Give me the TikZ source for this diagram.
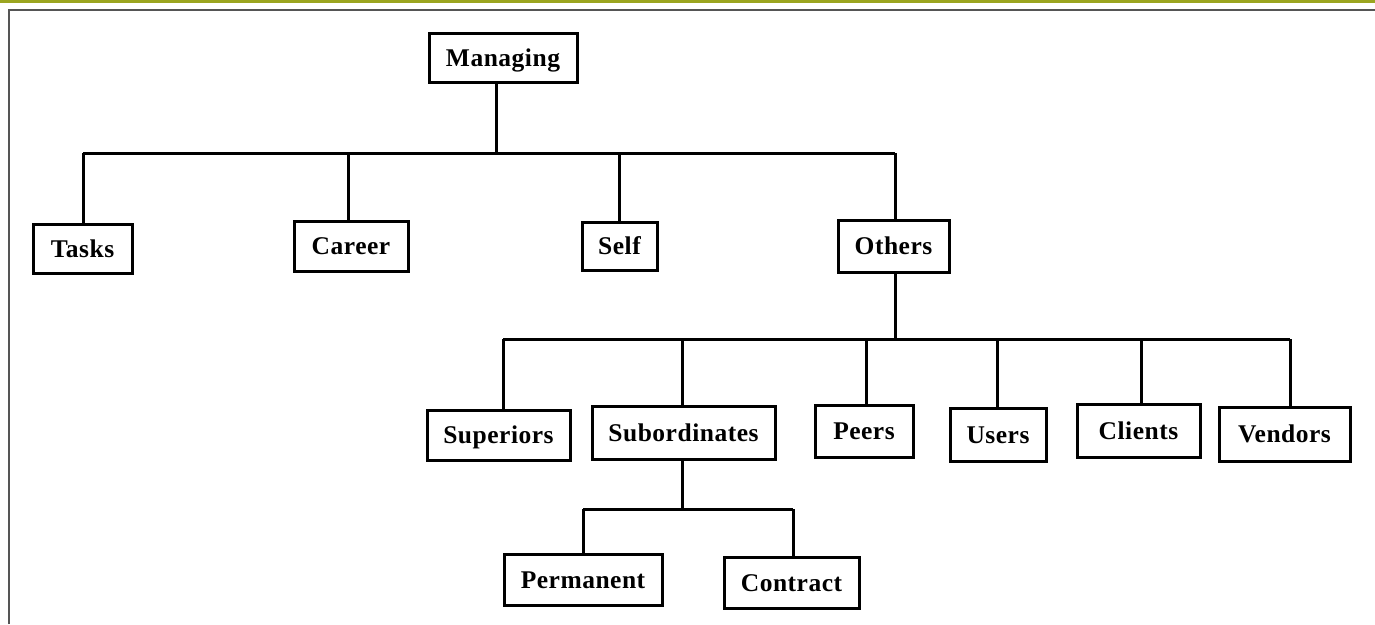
\documentclass[tikz,border=0pt]{standalone}
\usepackage{fontspec}
\setmainfont{Liberation Serif}
\definecolor{barolive}{RGB}{155,165,32}
\definecolor{framegray}{RGB}{85,85,85}
\begin{document}
\begin{tikzpicture}[x=1pt,y=-1pt,
  box/.style={draw=black,line width=3pt,fill=white,inner sep=0pt,
    text height=17pt,text depth=0pt,
    font=\fontsize{25.5}{29}\selectfont\bfseries\addfontfeatures{LetterSpace=2}},
  link/.style={draw=black,line width=3pt}]
\useasboundingbox (0,0) rectangle (1375,624);
\fill[white] (0,0) rectangle (1375,624);
% frame
\fill[barolive] (0,0) rectangle (1375,3);
\draw[framegray,line width=2.2pt] (9,624) -- (9,10) -- (1375,10);
% nodes
\node[box,minimum width=148pt,minimum height=49pt] (managing) at (503,57.5) {Managing};
\node[box,minimum width=99pt,minimum height=49pt] (tasks) at (82.5,248.5) {Tasks};
\node[box,minimum width=114pt,minimum height=50pt] (career) at (351,246) {Career};
\node[box,minimum width=75pt,minimum height=48pt] (self) at (619.5,246) {Self};
\node[box,minimum width=111pt,minimum height=52pt] (others) at (893.5,246) {Others};
\node[box,minimum width=143pt,minimum height=50pt] (superiors) at (498.5,435) {Superiors};
\node[box,minimum width=183pt,minimum height=53pt] (subordinates) at (683.5,432.5) {Subordinates};
\node[box,minimum width=98pt,minimum height=52pt] (peers) at (864,431) {Peers};
\node[box,minimum width=96pt,minimum height=53pt] (users) at (998,434.5) {Users};
\node[box,minimum width=123pt,minimum height=53pt] (clients) at (1138.5,430.5) {Clients};
\node[box,minimum width=131pt,minimum height=54pt] (vendors) at (1284.5,434) {Vendors};
\node[box,minimum width=158pt,minimum height=51pt] (permanent) at (583,579.5) {Permanent};
\node[box,minimum width=135pt,minimum height=51pt] (contract) at (791.5,582.5) {Contract};
% bus coordinates
\coordinate (m0) at (496,153);
\coordinate (t0) at (83,153);
\coordinate (c0) at (348,153);
\coordinate (s0) at (619,153);
\coordinate (o0) at (895,153);
\coordinate (o1) at (895,339);
\coordinate (sup0) at (503,339);
\coordinate (sub0) at (682,339);
\coordinate (p0) at (866,339);
\coordinate (u0) at (997,339);
\coordinate (cl0) at (1141,339);
\coordinate (v0) at (1290,339);
\coordinate (sub1) at (682,509);
\coordinate (pe0) at (583,509);
\coordinate (co0) at (793,509);
% connectors level 1
\draw[link] (managing.south -| m0) -- (m0);
\draw[link] (t0) -- (o0);
\draw[link] (t0) -- (tasks.north -| t0);
\draw[link] (c0) -- (career.north -| c0);
\draw[link] (s0) -- (self.north -| s0);
\draw[link] (o0) -- (others.north -| o0);
% level 2
\draw[link] (others.south -| o1) -- (o1);
\draw[link] (sup0) -- (v0);
\draw[link] (sup0) -- (superiors.north -| sup0);
\draw[link] (sub0) -- (subordinates.north -| sub0);
\draw[link] (p0) -- (peers.north -| p0);
\draw[link] (u0) -- (users.north -| u0);
\draw[link] (cl0) -- (clients.north -| cl0);
\draw[link] (v0) -- (vendors.north -| v0);
% level 3
\draw[link] (subordinates.south -| sub1) -- (sub1);
\draw[link] (pe0) -- (co0);
\draw[link] (pe0) -- (permanent.north -| pe0);
\draw[link] (co0) -- (contract.north -| co0);
\end{tikzpicture}
\end{document}
